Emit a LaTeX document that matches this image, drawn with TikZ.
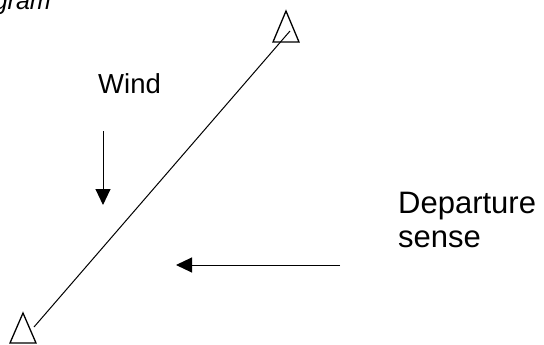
\documentclass[tikz,border=0pt]{standalone}
\usepackage{fontspec}
\setmainfont{Liberation Sans}
\usetikzlibrary{arrows.meta}
\begin{document}
\begin{tikzpicture}[x=1pt,y=-1pt,
  ln/.style={line width=1pt, black},
  tri/.style={line width=1.3pt, black, line join=miter},
  arr/.style={line width=1pt, -{Triangle[length=16pt,width=15pt]}},
  lbl/.style={inner sep=0pt, anchor=base west}]
\useasboundingbox (0,0) rectangle (544,345);
% stations
\draw[tri] (286,11) -- (299,42) -- (273,42) -- cycle;
\draw[tri] (23,313) -- (36,343) -- (10,343) -- cycle;
\coordinate (stA) at (290,31);
\coordinate (stB) at (34,327);
\draw[ln] (stA) -- (stB);
% wind
\node[lbl, font=\fontsize{27.5}{32}\selectfont] (wind) at (98,94) {Wind};
\coordinate (w1) at (103,131);
\coordinate (w2) at (103,205);
\draw[arr] (w1) -- (w2);
% departure
\node[lbl, font=\fontsize{31}{36}\selectfont] (dep) at (398,213) {Departure};
\node[lbl, font=\fontsize{31}{36}\selectfont] (sense) at (398,247) {sense};
\coordinate (d1) at (340,265);
\coordinate (d2) at (176,265);
\draw[arr] (d1) -- (d2);
% caption fragment
\node[inner sep=0pt, anchor=base east, font=\fontsize{25}{30}\selectfont\itshape] (cap) at (51,10) {gram};
\end{tikzpicture}
\end{document}
